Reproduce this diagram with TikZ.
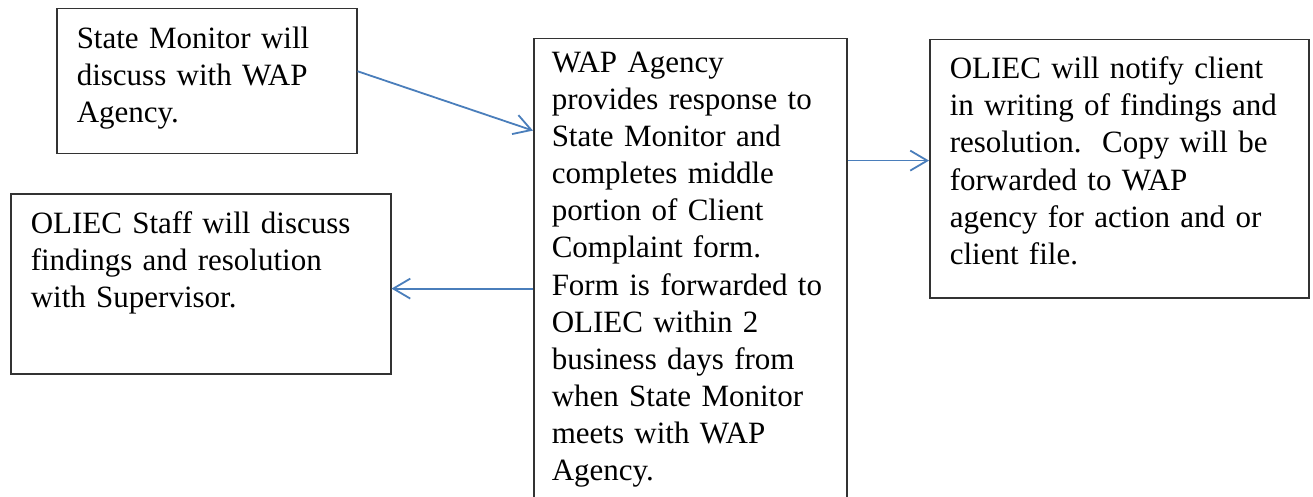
\documentclass[tikz,border=0pt]{standalone}
\usepackage{fontspec}
\setmainfont{Liberation Serif}
\usetikzlibrary{arrows.meta}
\definecolor{wordblue}{HTML}{4A7EBB}

\begin{document}
\begin{tikzpicture}[x=1pt, y=-1pt, stepbox/.style={draw=black!80, line width=1.5pt, anchor=north west, align=left, inner xsep=20pt, inner ysep=15pt, font=\fontsize{31}{37.1}\selectfont}, link/.style={draw=wordblue, line width=1.8pt, -{Straight Barb[length=17pt, width=20pt]}}]
			\useasboundingbox (0,0) rectangle (1313,497);
			\node[stepbox, text width=260pt, text height=25pt, text depth=90pt] (monitor) at (56,8) {State Monitor will\\discuss with WAP\\Agency.};
			\node[stepbox, text width=340pt, text height=25pt, text depth=125pt] (staff) at (10,193) {OLIEC Staff will discuss\\findings and resolution\\with Supervisor.};
			\node[stepbox, inner xsep=18pt, text width=277pt, text height=18.7pt, text depth=413pt] (agency) at (533,38) {WAP Agency\\provides response to\\State Monitor and\\completes middle\\portion of Client\\Complaint form.\\Form is forwarded to\\OLIEC within 2\\business days from\\when State Monitor\\meets with WAP\\Agency.};
			\node[stepbox, text width=339pt, text height=24pt, text depth=204pt] (notify) at (929,39) {OLIEC will notify client\\in writing of findings and\\resolution.\ \ Copy will be\\forwarded to WAP\\agency for action and or\\client file.};
			\draw[link] ([yshift=10pt]monitor.east) -- ([yshift=139pt]agency.west);
			\draw[link] ([yshift=109pt]agency.east) -- ([yshift=109pt]agency.east -| notify.west);
			\draw[link] ([yshift=-19pt]agency.west) -- ([yshift=-19pt]agency.west -| staff.east);
\end{tikzpicture}
\end{document}
